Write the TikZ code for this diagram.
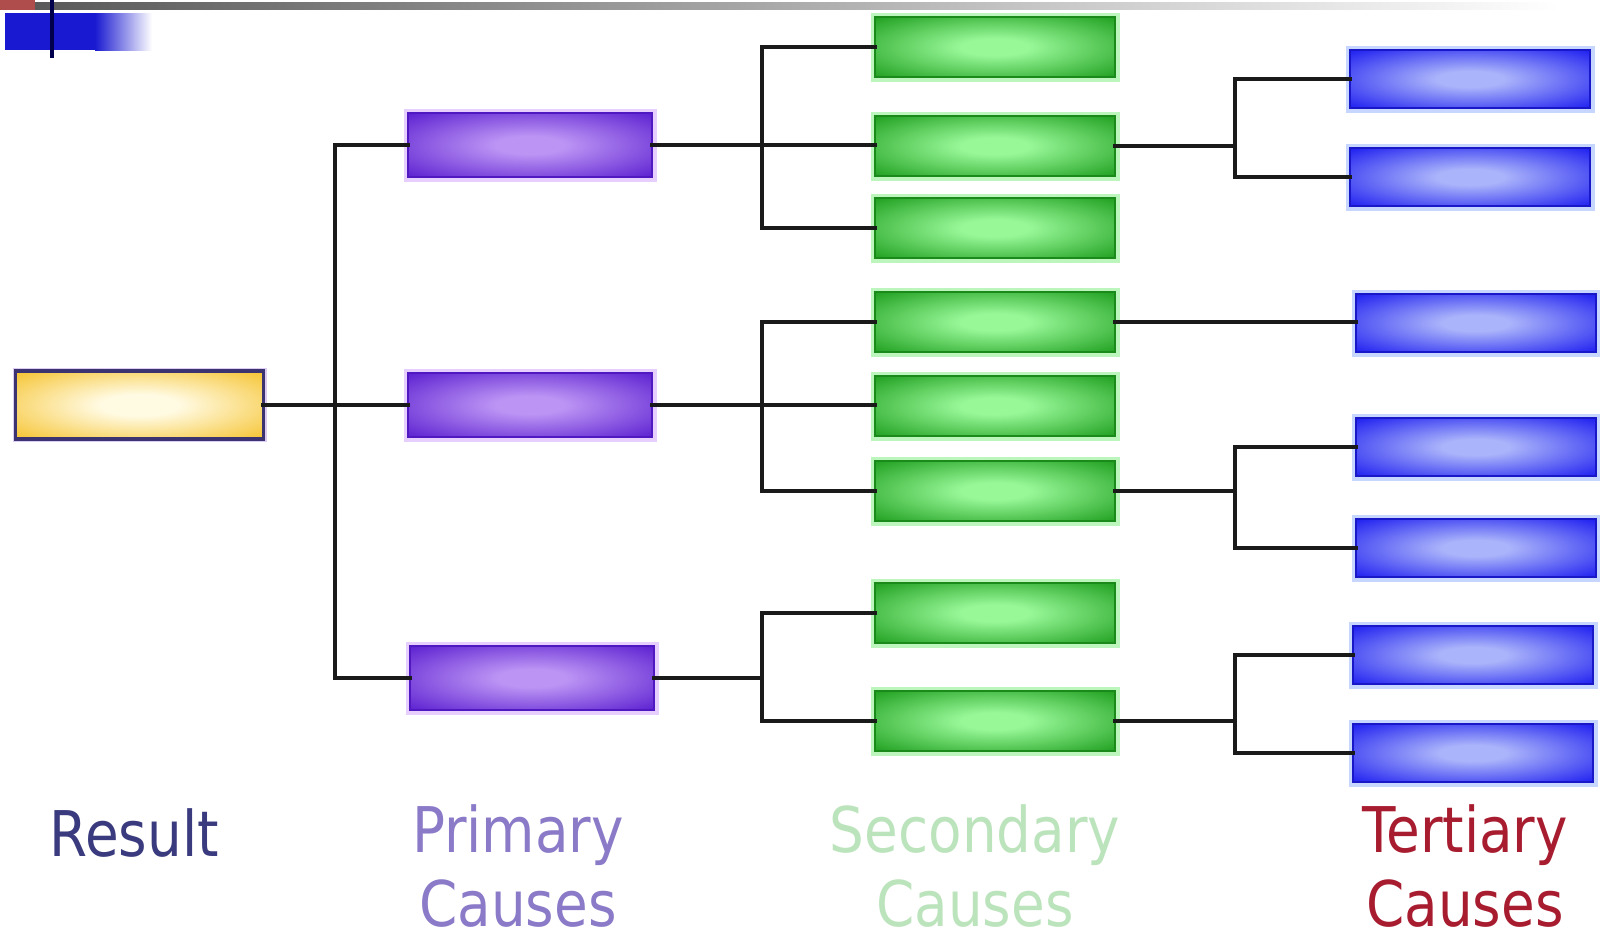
\documentclass[tikz,border=0pt]{standalone}
\usepackage{fontspec}
\newfontfamily\labfont{DejaVu Sans}[FakeStretch=0.87]
\definecolor{resEdge}{HTML}{F5BE1E}\definecolor{resMid}{HTML}{FFFAE2}
\definecolor{resBorder}{HTML}{3C3470}\definecolor{resGlow}{HTML}{DCCCF2}
\definecolor{priEdge}{HTML}{5A1ED0}\definecolor{priMid}{HTML}{BC94F4}
\definecolor{priBorder}{HTML}{5018C0}\definecolor{priGlow}{HTML}{E6CEFF}
\definecolor{secEdge}{HTML}{1E9E1E}\definecolor{secMid}{HTML}{98F898}
\definecolor{secBorder}{HTML}{1A8A1A}\definecolor{secGlow}{HTML}{BCF6BC}
\definecolor{terEdge}{HTML}{1C1CF0}\definecolor{terMid}{HTML}{AAB4FA}
\definecolor{terBorder}{HTML}{1818C8}\definecolor{terGlow}{HTML}{C6D6FF}
\definecolor{resText}{HTML}{3A3A7E}\definecolor{priText}{HTML}{8A7AC8}
\definecolor{secText}{HTML}{BCE4BC}\definecolor{terText}{HTML}{A81C30}
\definecolor{lineCol}{HTML}{1A1A1A}
\pgfdeclareradialshading{glowres}{\pgfpoint{0bp}{0bp}}{color(0bp)=(resMid);color(8bp)=(resMid);color(38bp)=(resEdge);color(75bp)=(resEdge)}
\pgfdeclareradialshading{glowpri}{\pgfpoint{0bp}{0bp}}{color(0bp)=(priMid);color(7bp)=(priMid);color(36bp)=(priEdge);color(75bp)=(priEdge)}
\pgfdeclareradialshading{glowsec}{\pgfpoint{0bp}{0bp}}{color(0bp)=(secMid);color(7bp)=(secMid);color(36bp)=(secEdge);color(75bp)=(secEdge)}
\pgfdeclareradialshading{glowter}{\pgfpoint{0bp}{0bp}}{color(0bp)=(terMid);color(7bp)=(terMid);color(36bp)=(terEdge);color(75bp)=(terEdge)}
\tikzset{
  boxbase/.style={rectangle, inner sep=0pt, outer sep=0pt},
  resbox/.style={boxbase, minimum width=124pt, minimum height=34pt, shading=glowres,
    preaction={draw=resGlow, line width=3pt}, draw=resBorder, line width=1.6pt},
  pribox/.style={boxbase, minimum width=122pt, minimum height=32pt, shading=glowpri,
    preaction={draw=priGlow, line width=4.5pt}, draw=priBorder, line width=1pt},
  secbox/.style={boxbase, minimum width=120pt, minimum height=30pt, shading=glowsec,
    preaction={draw=secGlow, line width=4.5pt}, draw=secBorder, line width=1pt},
  terbox/.style={boxbase, minimum width=120pt, minimum height=29pt, shading=glowter,
    preaction={draw=terGlow, line width=4.5pt}, draw=terBorder, line width=1pt},
  conn/.style={draw=lineCol, line width=2.2pt, line cap=rect},
  lab/.style={font=\labfont\fontsize{31.5}{37}\selectfont, align=center, anchor=base, inner sep=0pt},
}
\begin{document}
\begin{tikzpicture}[x=0.5pt, y=-0.5pt]
\useasboundingbox (0,0) rectangle (1600,938);
\fill[white] (0,0) rectangle (1600,938);
% top-left slide decoration
\shade[left color=black!65, right color=white] (35,2) rectangle (1560,9);
\fill[red!55!black!70!white] (0,0) rectangle (35,10);
\fill[blue!80!black!90] (5,13) rectangle (96,50);
\shade[left color=blue!80!black!90, right color=white] (95,13) rectangle (152,50);
\fill[blue!30!black] (50,0) rectangle (54,58);
% nodes
\node[resbox] (R) at (139.5,405) {};
\node[pribox] (P1) at (530,145) {};
\node[pribox] (P2) at (530,405) {};
\node[pribox] (P3) at (532,678) {};
\node[secbox] (S1) at (995,47) {};
\node[secbox] (S2) at (995,146) {};
\node[secbox] (S3) at (995,228) {};
\node[secbox] (S4) at (995,322) {};
\node[secbox] (S5) at (995,406) {};
\node[secbox] (S6) at (995,491) {};
\node[secbox] (S7) at (995,613) {};
\node[secbox] (S8) at (995,721) {};
\node[terbox] (T1) at (1470,79) {};
\node[terbox] (T2) at (1470,177) {};
\node[terbox] (T3) at (1476,323) {};
\node[terbox] (T4) at (1476,447) {};
\node[terbox] (T5) at (1476,548) {};
\node[terbox] (T6) at (1473,655) {};
\node[terbox] (T7) at (1473,753) {};
% bracket columns
\coordinate (b1) at (335,0);
\coordinate (b2) at (762,0);
\coordinate (b3) at (1235,0);
% result -> primary
\draw[conn] (R.east) -- (R.east -| P2.west);
\draw[conn] (P1.west) -- (P1.west -| b1) -- (P3.west -| b1) -- (P3.west);
% primary -> secondary
\draw[conn] (P1.east) -- (P1.east -| S2.west);
\draw[conn] (S1.west) -- (S1.west -| b2) -- (S3.west -| b2) -- (S3.west);
\draw[conn] (P2.east) -- (P2.east -| S5.west);
\draw[conn] (S4.west) -- (S4.west -| b2) -- (S6.west -| b2) -- (S6.west);
\draw[conn] (P3.east) -- (P3.east -| b2);
\draw[conn] (S7.west) -- (S7.west -| b2) -- (S8.west -| b2) -- (S8.west);
% secondary -> tertiary
\draw[conn] (S2.east) -- (S2.east -| b3);
\draw[conn] (T1.west) -- (T1.west -| b3) -- (T2.west -| b3) -- (T2.west);
\draw[conn] (S4.east) -- (S4.east -| T3.west);
\draw[conn] (S6.east) -- (S6.east -| b3);
\draw[conn] (T4.west) -- (T4.west -| b3) -- (T5.west -| b3) -- (T5.west);
\draw[conn] (S8.east) -- (S8.east -| b3);
\draw[conn] (T6.west) -- (T6.west -| b3) -- (T7.west -| b3) -- (T7.west);
% labels (base anchor = baseline of last line)
\node[lab, text=resText] (LR) at (134,856) {Result};
\node[lab, text=priText] (LP) at (518,926) {Primary\\Causes};
\node[lab, text=secText] (LS) at (975,926) {Secondary\\Causes};
\node[lab, text=terText] (LT) at (1465,926) {Tertiary\\Causes};
\end{tikzpicture}
\end{document}
